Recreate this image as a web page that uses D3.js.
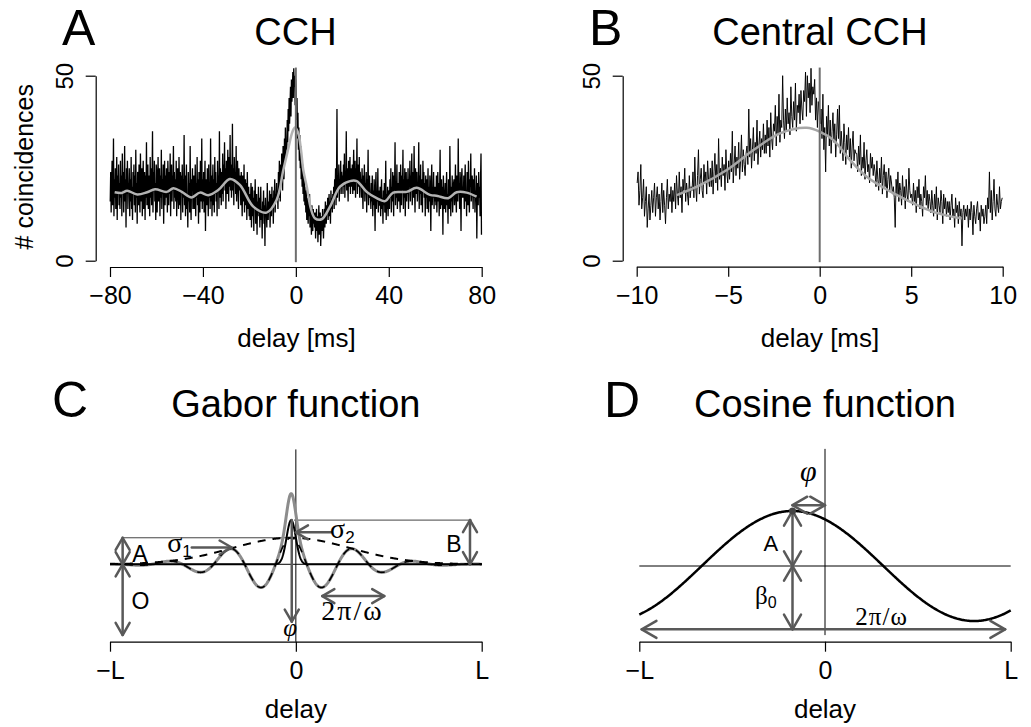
<!DOCTYPE html>
<html>
<head>
<meta charset="utf-8">
<script src="https://cdn.jsdelivr.net/npm/d3@7"></script>
<style>
  body { margin: 0; background: #fff; }
  svg { display: block; }
</style>
</head>
<body>
<svg id="fig" width="1031" height="727"></svg>
<script>
// ---------- Panel A: full cross-correlation histogram (0.2 ms bins, -80..80 ms) ----------
const cchDelayRange = [-80, 80];
const cchBinWidth = 0.2;
const cchCounts = [
  16,24,13,21,27,15,19,33,12,22,17,25,14,20,28,11,23,18,26,15,
  21,14,27,17,23,12,29,19,24,13,20,31,16,22,9,25,18,27,14,21,
  19,25,12,22,16,28,14,20,11,24,18,26,15,23,13,30,17,21,10,24,
  22,15,26,18,13,29,20,16,25,12,21,27,14,19,24,11,23,17,32,15,
  18,26,14,23,20,12,28,17,25,15,22,35,13,24,19,27,16,21,11,26,
  24,13,21,28,16,19,25,12,23,17,30,14,22,18,26,10,20,27,15,23,
  17,25,20,13,27,22,15,24,18,29,12,21,26,16,23,19,31,14,24,17,
  22,16,27,12,20,25,18,14,28,21,15,24,11,23,19,26,13,22,17,34,
  15,23,12,20,26,14,18,9,24,16,21,13,31,17,11,22,19,25,14,20,
  23,14,19,26,12,21,17,28,15,22,10,24,18,13,27,20,16,33,14,22,
  16,24,13,20,27,8,22,18,15,25,19,12,26,17,21,14,33,16,23,12,
  20,26,15,22,13,28,18,24,16,21,12,27,19,23,14,35,17,25,20,15,
  24,18,29,16,26,21,32,19,25,14,27,22,18,30,23,16,28,20,34,19,
  26,17,23,37,19,25,15,28,21,24,18,31,16,22,27,20,14,25,19,23,
  21,15,24,18,12,23,20,16,26,13,19,22,15,21,11,24,17,14,20,12,
  18,11,16,21,9,15,20,12,17,8,19,14,22,10,15,18,7,16,13,20,
  12,17,9,15,20,11,14,6,16,13,19,10,15,4,17,12,14,9,21,13,
  11,16,13,19,9,15,18,12,20,14,17,10,19,15,22,13,18,16,21,17,
  19,14,24,17,27,20,16,26,21,29,23,19,31,25,22,33,27,36,28,32,
  30,38,32,41,35,44,37,42,47,39,49,43,46,51,44,52,47,50,42,49,
  46,38,44,33,40,30,36,27,34,25,31,22,28,20,26,18,24,16,22,15,
  19,13,20,11,17,15,10,16,12,18,9,14,13,7,15,11,8,14,10,13,
  9,13,6,11,14,8,12,5,10,15,7,11,13,4,9,12,8,14,10,6,
  11,14,9,16,12,10,15,13,17,11,14,18,12,16,10,19,14,17,13,18,
  16,20,14,22,18,25,15,21,41,17,23,19,26,16,22,20,27,18,24,21,
  23,18,26,20,29,17,24,21,35,19,25,22,16,27,23,20,28,18,25,22,
  20,26,18,24,30,19,23,27,17,25,21,33,18,22,26,20,28,17,24,21,
  22,17,25,19,14,23,20,26,16,21,18,24,13,22,19,30,15,20,23,17,
  18,14,21,16,23,12,19,15,22,17,8,20,24,14,18,16,25,13,19,15,
  15,20,12,18,22,14,17,10,19,15,21,13,16,27,11,18,14,20,12,17,
  19,14,22,17,25,13,20,16,24,18,12,23,19,32,15,21,17,26,14,20,
  21,16,24,18,13,26,20,15,23,19,30,14,22,17,25,12,20,24,16,22,
  18,25,14,22,20,27,16,23,19,29,15,21,24,17,31,20,13,25,18,22,
  24,16,21,19,32,14,23,18,26,15,20,22,13,27,19,24,17,21,12,23,
  17,22,14,19,25,13,20,16,23,18,8,21,26,15,19,17,24,14,20,16,
  20,15,23,13,18,24,16,21,12,19,30,14,17,22,15,20,7,23,18,14,
  16,21,13,19,24,15,18,10,22,17,14,31,19,12,20,16,23,13,18,21,
  22,15,19,26,17,13,23,20,16,33,18,21,14,24,19,8,22,25,17,20,
  17,23,14,20,26,16,19,12,24,21,15,27,18,13,22,20,29,16,19,23,
  20,14,22,17,25,13,19,16,23,6,18,21,15,24,17,20,12,22,29,7
];
// smoothed histogram (grey curve)
const smoothDelays = [-78,-75,-72.6,-68.3,-64,-60.6,-55.6,-52.7,-49.1,-44.9,-41.3,-37.7,-33.4,-28.4,-24.1,-18.3,-12.6,-8.3,-5.4,-3.2,-1.5,-0.4,1.0,2.2,3.2,4.7,6.5,8.2,11.1,14.7,19,23.3,26.2,30.5,34.8,38.4,41.9,47.7,52,57.7,61,65.6,69.2,73.5,77.8];
const smoothCounts = [18.5,18.3,18.9,17.9,18.5,19.3,18.6,19.6,18.6,17.1,18.4,17.7,19.1,22.1,20.5,14.6,13.0,16.4,24.5,30.5,34.8,36.0,34.5,30.0,24.5,20.0,14.0,11.5,11.2,14.6,20.0,21.5,21.5,18.6,16.9,16.1,18.4,18.6,19.7,17.8,17.5,16.9,18.5,18.4,17.3];

// ---------- Panel B: central part of the histogram (0.05 ms bins, -10..10 ms) ----------
const centralDelayRange = [-10, 10];
const centralBinWidth = 0.05;
const centralCounts = [
  21,24,15,19,26,14,17,22,12,16,20,9,14,18,11,15,19,13,17,21,
  12,17,20,14,18,11,16,21,13,19,15,10,17,22,14,18,16,20,13,19,
  16,21,14,23,18,15,24,17,20,13,22,19,25,16,21,18,15,23,17,20,
  19,24,17,28,20,16,23,30,18,22,25,19,17,26,21,24,18,27,22,20,
  25,20,27,18,24,29,21,26,19,33,22,25,20,28,23,26,19,30,24,21,
  27,22,29,24,35,21,26,31,23,28,25,32,22,27,34,24,30,26,23,29,
  31,26,41,28,33,25,30,36,27,32,29,38,26,31,35,28,33,30,37,29,
  34,29,38,31,36,28,40,33,30,37,35,42,31,39,34,45,32,38,36,50,
  38,33,41,35,44,37,40,34,47,39,36,43,38,48,35,42,40,45,37,46,
  41,38,46,43,51,39,50,44,48,40,52,42,47,45,49,38,44,36,43,40,
  37,41,33,45,30,36,24,39,34,42,31,38,29,35,40,32,37,28,34,41,
  33,42,29,35,31,27,37,32,26,34,30,36,28,33,25,31,35,27,30,29,
  29,24,31,26,34,23,28,25,32,22,27,30,24,26,21,29,25,28,23,26,
  24,20,27,22,19,25,21,28,18,23,26,20,24,17,22,25,19,23,21,18,
  20,17,9,22,18,24,16,21,19,15,23,17,20,14,22,18,16,25,19,17,
  18,15,21,16,19,13,20,17,22,14,18,16,12,20,17,23,15,19,14,18,
  16,13,19,15,12,18,14,20,11,17,15,13,19,16,10,18,14,17,12,16,
  13,16,11,15,18,12,14,9,17,13,15,10,16,12,14,4,13,15,11,14,
  12,15,9,14,11,16,13,7,15,12,10,14,16,11,13,8,15,12,14,10,
  12,15,10,17,14,24,13,19,11,16,22,14,12,18,15,13,20,14,16,17
];
// fitted curve over the central window (grey)
const centralFitDelays = [-7.81,-6.54,-5.08,-3.62,-2.17,-0.71,0.02,0.75,1.66,2.57,4.39,6.21,7.76];
const centralFitCounts = [17.7,20.4,24.5,29.9,34.4,35.9,34.8,32.6,27.2,22.7,17.3,13.2,11.4];

const ticksA = [-80, -40, 0, 40, 80];
const ticksB = [-10, -5, 0, 5, 10];
const countTicks = [0, 50];

// ---------- Panel C: Gabor model parameters (schematic units, L = 100) ----------
const gaborL = 100;
const gaborOffset = 40;      // O
const gaborAmpA = 15;        // A
const gaborAmpB = 25;        // B
const gaborPhase = -2.5;     // phi
const gaborSigma1 = 32;
const gaborSigma2 = 2.5;
const gaborPeriod = 33.4;    // 2*pi/omega

// ---------- Panel D: cosine model parameters (schematic units, L = 1) ----------
const cosL = 1;
const cosBeta0 = 1;
const cosAmpA = 0.86;
const cosPhase = -0.175;
const cosPeriod = 1.957;

const schematicTickLabels = ["\u2212L", "0", "L"];

// ---------- drawing ----------
const sans = '"Liberation Sans", Arial, Helvetica, sans-serif';
const serif = '"Liberation Serif", "Times New Roman", serif';
const svg = d3.select("#fig");
const annotColor = "#595959";

function styleAxis(g) {
  g.attr("font-family", sans).attr("font-size", 25);
  g.selectAll("path.domain").attr("stroke", "#000").attr("stroke-width", 1.2);
  g.selectAll(".tick line").attr("stroke", "#000").attr("stroke-width", 1.2);
  g.selectAll(".tick text").attr("fill", "#000");
}
function bottomAxis(scale, y, values, format) {
  const g = svg.append("g").attr("transform", `translate(0,${y})`)
    .call(d3.axisBottom(scale).tickValues(values).tickFormat(format).tickSize(10).tickSizeOuter(0));
  styleAxis(g);
  g.selectAll(".tick text").attr("y", 37.3).attr("dy", null);
  return g;
}
function leftAxis(scale, x, values) {
  const g = svg.append("g").attr("transform", `translate(${x},0)`)
    .call(d3.axisLeft(scale).tickValues(values).tickSize(10).tickSizeOuter(0));
  styleAxis(g);
  g.selectAll(".tick text").attr("x", 0).attr("y", -23).attr("dy", null)
    .attr("text-anchor", "middle").attr("transform", "rotate(-90)").attr("font-size", 24);
  return g;
}
function label(x, y, txt, size, anchor, family) {
  return svg.append("text").attr("x", x).attr("y", y).attr("font-family", family || sans)
    .attr("font-size", size).attr("text-anchor", anchor || "middle").attr("fill", "#000").text(txt);
}
function arrow(x1, y1, x2, y2, heads, len) {
  const g = svg.append("g").attr("stroke", annotColor).attr("stroke-width", 2.5)
    .attr("fill", "none").attr("stroke-linecap", "round").attr("stroke-linejoin", "round");
  g.append("line").attr("x1", x1).attr("y1", y1).attr("x2", x2).attr("y2", y2);
  const head = (xa, ya, xb, yb) => {
    const ang = Math.atan2(yb - ya, xb - xa);
    const a1 = ang + Math.PI - Math.PI / 6, a2 = ang + Math.PI + Math.PI / 6;
    g.append("path").attr("d",
      `M${xb + len * Math.cos(a1)},${yb + len * Math.sin(a1)}L${xb},${yb}L${xb + len * Math.cos(a2)},${yb + len * Math.sin(a2)}`);
  };
  if (heads === "end" || heads === "both") head(x1, y1, x2, y2);
  if (heads === "start" || heads === "both") head(x2, y2, x1, y1);
}

// ===== Panel A =====
const xA = d3.scaleLinear().domain(cchDelayRange).range([110, 481.7]);
const yA = d3.scaleLinear().domain([0, 50]).range([260.7, 75.7]);
const binsA = cchCounts.map((c, i) => ({ t: cchDelayRange[0] + (i + 0.5) * cchBinWidth, c }));
svg.append("path").datum(binsA)
  .attr("d", d3.line().x(d => xA(d.t)).y(d => yA(d.c)))
  .attr("fill", "none").attr("stroke", "#000").attr("stroke-width", 1.3);
svg.append("path").datum(smoothDelays.map((t, i) => [t, smoothCounts[i]]))
  .attr("d", d3.line().curve(d3.curveCatmullRom).x(d => xA(d[0])).y(d => yA(d[1])))
  .attr("fill", "none").attr("stroke", "#b3b3b3").attr("stroke-width", 2.5);
svg.append("line").attr("x1", xA(0)).attr("x2", xA(0)).attr("y1", yA(-0.4)).attr("y2", yA(52.2))
  .attr("stroke", "#6e6e6e").attr("stroke-width", 2);
bottomAxis(xA, 267, ticksA, d3.format("d"));
leftAxis(yA, 95.7, countTicks);
label(295.5, 45, "CCH", 38);
label(62, 45, "A", 50, "start");
label(296.5, 347.3, "delay [ms]", 26);
label(0, 0, "# coincidences", 25).attr("transform", "translate(33.3,166.7) rotate(-90)");

// ===== Panel B =====
const xB = d3.scaleLinear().domain(centralDelayRange).range([636.7, 1002.7]);
const yB = d3.scaleLinear().domain([0, 50]).range([260.7, 75.7]);
const binsB = centralCounts.map((c, i) => ({ t: centralDelayRange[0] + (i + 0.5) * centralBinWidth, c }));
svg.append("path").datum(binsB)
  .attr("d", d3.line().x(d => xB(d.t)).y(d => yB(d.c)))
  .attr("fill", "none").attr("stroke", "#000").attr("stroke-width", 0.95);
svg.append("path").datum(centralFitDelays.map((t, i) => [t, centralFitCounts[i]]))
  .attr("d", d3.line().curve(d3.curveCatmullRom).x(d => xB(d[0])).y(d => yB(d[1])))
  .attr("fill", "none").attr("stroke", "#a6a6a6").attr("stroke-width", 2.5);
svg.append("line").attr("x1", xB(0)).attr("x2", xB(0)).attr("y1", yB(-0.4)).attr("y2", yB(52.2))
  .attr("stroke", "#6e6e6e").attr("stroke-width", 2);
bottomAxis(xB, 266.7, ticksB, d3.format("d"));
leftAxis(yB, 622.7, countTicks);
label(820, 45, "Central CCH", 38);
label(589, 45, "B", 50, "start");
label(820, 347.3, "delay [ms]", 26);

// ===== Panel C: Gabor function =====
const xC = d3.scaleLinear().domain([-gaborL, gaborL]).range([110, 481.7]);
const yC = d3.scaleLinear().domain([0, 105]).range([635, 449.4]);
const omega = 2 * Math.PI / gaborPeriod;
const env1 = t => Math.exp(-((t - gaborPhase) ** 2) / (2 * gaborSigma1 ** 2));
const env2 = t => Math.exp(-((t - gaborPhase) ** 2) / (2 * gaborSigma2 ** 2));
const gaborFull = t => gaborOffset + gaborAmpA * env1(t) * Math.cos(omega * (t - gaborPhase)) + gaborAmpB * env2(t);
const gaborOsc = t => gaborOffset + gaborAmpA * env1(t) * Math.cos(omega * (t - gaborPhase));
const gaborEnv = t => gaborOffset + gaborAmpA * env1(t);
const gaborPeak = t => gaborOffset + gaborAmpB * env2(t);
const tC = d3.range(-gaborL, gaborL + 0.001, 0.2);
const lineC = f => d3.line().x(t => xC(t)).y(t => yC(f(t)))(tC);

// horizontal guides and zero line
svg.append("line").attr("x1", xC(0)).attr("x2", xC(0)).attr("y1", yC(105)).attr("y2", 641.7)
  .attr("stroke", "#000").attr("stroke-width", 1);
svg.append("line").attr("x1", xC(-gaborL)).attr("x2", xC(gaborL))
  .attr("y1", yC(gaborOffset)).attr("y2", yC(gaborOffset)).attr("stroke", "#000").attr("stroke-width", 1);
svg.append("line").attr("x1", xC(-93.2)).attr("x2", xC(-1.5))
  .attr("y1", yC(gaborOffset + gaborAmpA)).attr("y2", yC(gaborOffset + gaborAmpA)).attr("stroke", "#444").attr("stroke-width", 1);
svg.append("line").attr("x1", xC(-1)).attr("x2", xC(94.6))
  .attr("y1", yC(gaborOffset + gaborAmpB)).attr("y2", yC(gaborOffset + gaborAmpB)).attr("stroke", "#444").attr("stroke-width", 1);

svg.append("path").attr("d", lineC(gaborFull)).attr("fill", "none").attr("stroke", "#8c8c8c").attr("stroke-width", 3);
svg.append("path").attr("d", lineC(gaborOsc)).attr("fill", "none").attr("stroke", "#000")
  .attr("stroke-width", 1.6).attr("stroke-dasharray", "8,7");
svg.append("path").attr("d", lineC(gaborEnv)).attr("fill", "none").attr("stroke", "#000")
  .attr("stroke-width", 2).attr("stroke-dasharray", "8,7");
svg.append("path").attr("d", lineC(gaborPeak)).attr("fill", "none").attr("stroke", "#000").attr("stroke-width", 2);

// parameter arrows
const cArrow = 14;
arrow(xC(-93.2), yC(gaborOffset), xC(-93.2), yC(gaborOffset + gaborAmpA), "both", cArrow);
arrow(xC(-93.2), yC(0), xC(-93.2), yC(gaborOffset), "both", cArrow);
arrow(xC(93.7), yC(gaborOffset), xC(93.7), yC(gaborOffset + gaborAmpB), "both", cArrow);
arrow(xC(-56), yC(49.5), xC(gaborPhase - gaborSigma1), yC(49.5), "end", cArrow);
arrow(xC(19), yC(58.1), xC(gaborPhase + gaborSigma2), yC(58.1), "end", cArrow);
arrow(xC(-2.2), yC(gaborOffset + gaborAmpB), xC(-2.2), yC(7.5), "end", cArrow);
arrow(xC(gaborPhase + gaborPeriod / 2), yC(22), xC(gaborPhase + 1.5 * gaborPeriod), yC(22), "both", cArrow);

label(xC(-83.9), yC(41.5), "A", 23);
label(xC(-83.6), yC(14.5), "O", 23);
label(xC(85.1), yC(47.1), "B", 23);
const s1 = label(xC(-56), yC(47.1), "", 28, "end", serif);
s1.append("tspan").text("\u03c3");
s1.append("tspan").attr("font-family", sans).attr("font-size", 17).attr("dy", 5).text("1");
const s2 = label(xC(18.4), yC(54.9), "", 28, "start", serif);
s2.append("tspan").text("\u03c3");
s2.append("tspan").attr("font-family", sans).attr("font-size", 17).attr("dy", 5).text("2");
label(xC(30.5), yC(8.5), "2\u03c0/\u03c9", 28, "middle", serif).attr("letter-spacing", 2);
label(xC(-3.1), yC(-0.6), "\u03c6", 25, "middle", serif).attr("font-style", "italic");

bottomAxis(xC, 641.7, [-gaborL, 0, gaborL], (d, i) => schematicTickLabels[i]);
label(295.85, 416.7, "Gabor function", 38);
label(52, 416.7, "C", 50, "start");
label(295.85, 718.3, "delay", 26);

// ===== Panel D: cosine function =====
const xD = d3.scaleLinear().domain([-cosL, cosL]).range([639.3, 1010.7]);
const yD = d3.scaleLinear().domain([0, 1]).range([630, 566]);
const cosOmega = 2 * Math.PI / cosPeriod;
const cosFn = t => cosBeta0 + cosAmpA * Math.cos(cosOmega * (t - cosPhase));
const tD = d3.range(-cosL, cosL + 0.0001, 0.005);

svg.append("line").attr("x1", xD(0)).attr("x2", xD(0)).attr("y1", yD(2.83)).attr("y2", yD(-0.08))
  .attr("stroke", "#000").attr("stroke-width", 1);
svg.append("line").attr("x1", xD(-cosL)).attr("x2", xD(cosL)).attr("y1", yD(cosBeta0)).attr("y2", yD(cosBeta0))
  .attr("stroke", "#000").attr("stroke-width", 1);
svg.append("path").attr("d", d3.line().x(t => xD(t)).y(t => yD(cosFn(t)))(tD))
  .attr("fill", "none").attr("stroke", "#000").attr("stroke-width", 2.5);

const dArrow = 17;
arrow(xD(cosPhase), yD(cosBeta0), xD(cosPhase), yD(cosBeta0 + cosAmpA), "both", dArrow);
arrow(xD(cosPhase), yD(0.01), xD(cosPhase), yD(cosBeta0), "both", dArrow);
arrow(xD(cosPhase), yD(1.95), xD(0), yD(1.95), "both", dArrow);
arrow(xD(-0.987), yD(0.01), xD(-0.987 + cosPeriod), yD(0.01), "both", dArrow);
svg.append("circle").attr("cx", xD(cosPhase)).attr("cy", yD(cosBeta0 + cosAmpA)).attr("r", 3.5).attr("fill", "#444");

label(xD(-0.292), yD(1.24), "A", 22);
const b0 = label(xD(-0.377), yD(0.41), "", 25, "start", serif);
b0.append("tspan").text("\u03b2");
b0.append("tspan").attr("font-family", sans).attr("font-size", 16).attr("dy", 4).text("0");
label(xD(0.305), yD(0.08), "2\u03c0/\u03c9", 25, "middle", serif).attr("letter-spacing", 1);
label(xD(-0.09), yD(2.33), "\u03c6", 30, "middle", serif).attr("font-style", "italic");

bottomAxis(xD, 641.7, [-cosL, 0, cosL], (d, i) => schematicTickLabels[i]);
label(825, 416.7, "Cosine function", 38);
label(604, 416.7, "D", 50, "start");
label(825, 718.3, "delay", 26);
</script>
</body>
</html>
